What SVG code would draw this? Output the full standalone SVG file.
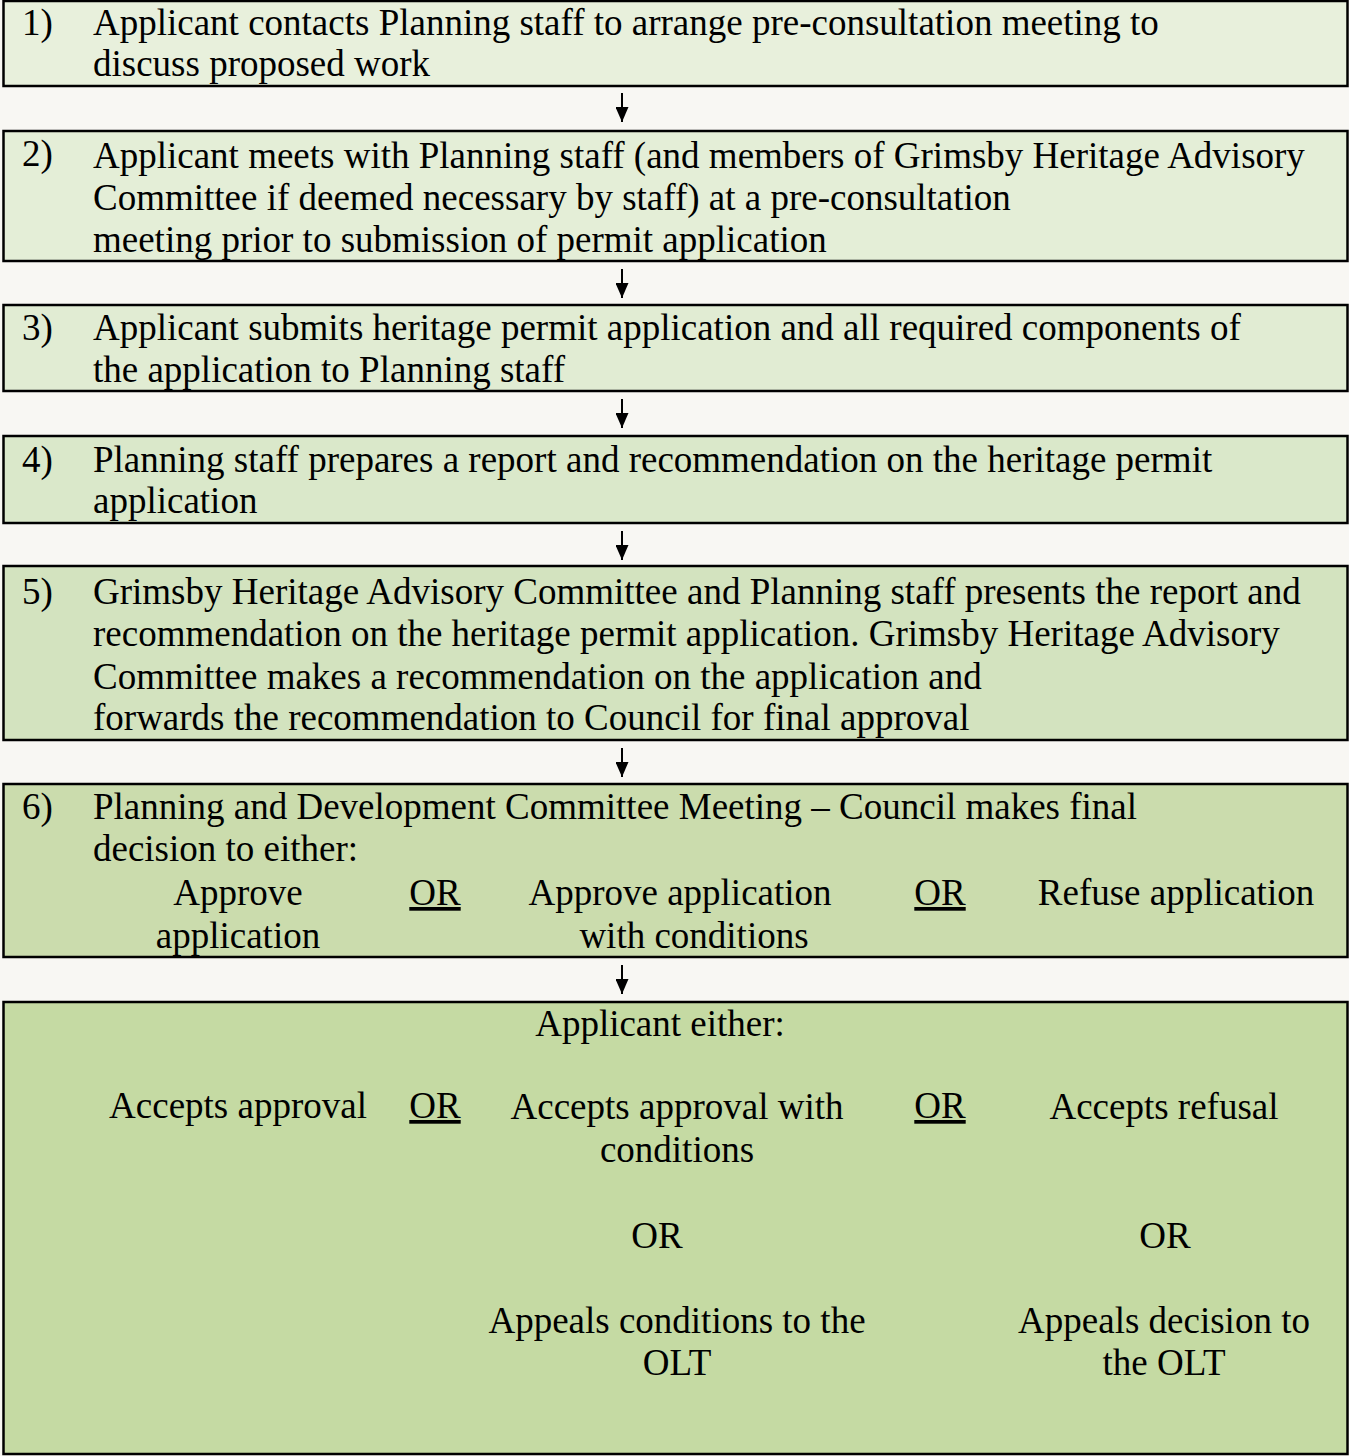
<svg xmlns="http://www.w3.org/2000/svg" width="1349" height="1456" viewBox="0 0 1349 1456">
<style>
text{font-family:"Liberation Serif","Times New Roman",serif;font-size:37px;fill:#000}
.box{stroke:#000;stroke-width:2.5}
.c{text-anchor:middle}
.u{text-decoration:underline}
.conn line{stroke:#000;stroke-width:2}
</style>
<defs>
<marker id="ah" viewBox="0 0 15 13" refX="15" refY="6.5" markerWidth="15" markerHeight="13" markerUnits="userSpaceOnUse" orient="auto">
<path d="M0,0 L15,6.5 L0,13 Z" fill="#000"/>
</marker>
</defs>
<rect width="1349" height="1456" fill="#f8f7f3"/>
<g id="step1">
<rect class="box" x="3.5" y="1" width="1344" height="85" fill="#e8f0dc"/>
<text x="22" y="35">1)</text>
<text x="93" y="35">Applicant contacts Planning staff to arrange pre-consultation meeting to</text>
<text x="93" y="76">discuss proposed work</text>
</g>
<g id="step2">
<rect class="box" x="3.5" y="131" width="1344" height="130" fill="#e4eed7"/>
<text x="22" y="166">2)</text>
<text x="93" y="168">Applicant meets with Planning staff (and members of Grimsby Heritage Advisory</text>
<text x="93" y="210">Committee if deemed necessary by staff) at a pre-consultation</text>
<text x="93" y="252">meeting prior to submission of permit application</text>
</g>
<g id="step3">
<rect class="box" x="3.5" y="305" width="1344" height="86" fill="#e1ecd3"/>
<text x="22" y="340">3)</text>
<text x="93" y="340">Applicant submits heritage permit application and all required components of</text>
<text x="93" y="382">the application to Planning staff</text>
</g>
<g id="step4">
<rect class="box" x="3.5" y="436" width="1344" height="87" fill="#dae8ca"/>
<text x="22" y="472">4)</text>
<text x="93" y="472">Planning staff prepares a report and recommendation on the heritage permit</text>
<text x="93" y="513">application</text>
</g>
<g id="step5">
<rect class="box" x="3.5" y="566" width="1344" height="174" fill="#d3e3bf"/>
<text x="22" y="604">5)</text>
<text x="93" y="604">Grimsby Heritage Advisory Committee and Planning staff presents the report and</text>
<text x="93" y="646">recommendation on the heritage permit application. Grimsby Heritage Advisory</text>
<text x="93" y="689">Committee makes a recommendation on the application and</text>
<text x="93" y="730">forwards the recommendation to Council for final approval</text>
</g>
<g id="step6">
<rect class="box" x="3.5" y="784" width="1344" height="173" fill="#cbdcad"/>
<text x="22" y="819">6)</text>
<text x="93" y="819">Planning and Development Committee Meeting – Council makes final</text>
<text x="93" y="861">decision to either:</text>
<text class="c" x="238" y="905">Approve</text>
<text class="c" x="238" y="948">application</text>
<text class="c u" x="435" y="905">OR</text>
<text class="c" x="680" y="905">Approve application</text>
<text class="c" x="694" y="948">with conditions</text>
<text class="c u" x="940" y="905">OR</text>
<text class="c" x="1176" y="905">Refuse application</text>
</g>
<g id="outcome">
<rect class="box" x="3.5" y="1002" width="1344" height="452" fill="#c5daa3"/>
<text class="c" x="660" y="1036">Applicant either:</text>
<text class="c" x="238" y="1118">Accepts approval</text>
<text class="c u" x="435" y="1118">OR</text>
<text class="c" x="677" y="1119">Accepts approval with</text>
<text class="c" x="677" y="1162">conditions</text>
<text class="c u" x="940" y="1118">OR</text>
<text class="c" x="1164" y="1119">Accepts refusal</text>
<text class="c" x="657" y="1248">OR</text>
<text class="c" x="1165" y="1248">OR</text>
<text class="c" x="677" y="1333">Appeals conditions to the</text>
<text class="c" x="677" y="1375">OLT</text>
<text class="c" x="1164" y="1333">Appeals decision to</text>
<text class="c" x="1164" y="1375">the OLT</text>
</g>
<g id="connectors" class="conn">
<line x1="622" y1="93" x2="622" y2="122" marker-end="url(#ah)"/>
<line x1="622" y1="269" x2="622" y2="298" marker-end="url(#ah)"/>
<line x1="622" y1="399" x2="622" y2="428" marker-end="url(#ah)"/>
<line x1="622" y1="531" x2="622" y2="560" marker-end="url(#ah)"/>
<line x1="622" y1="748" x2="622" y2="777" marker-end="url(#ah)"/>
<line x1="622" y1="965" x2="622" y2="994" marker-end="url(#ah)"/>
</g>
</svg>
